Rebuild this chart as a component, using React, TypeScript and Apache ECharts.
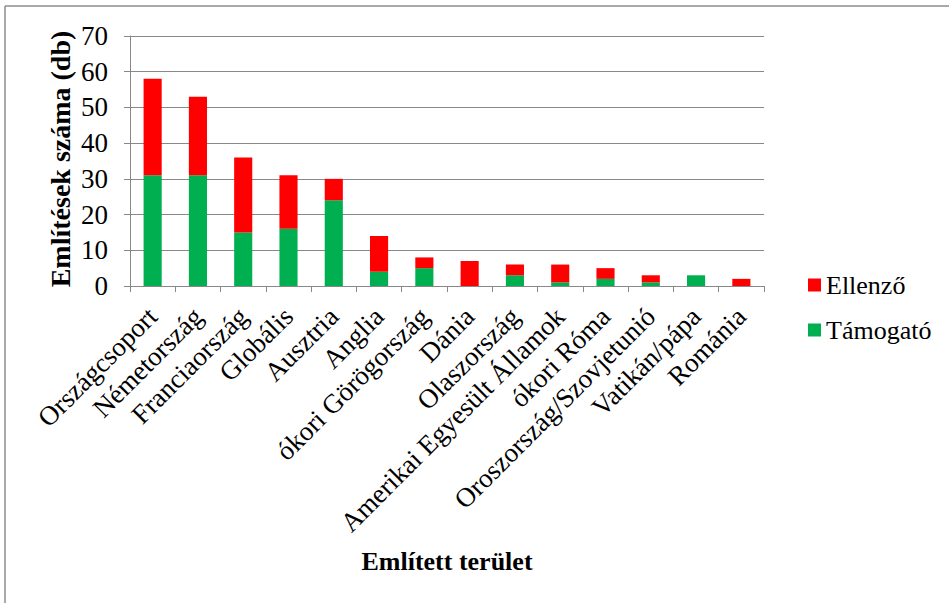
import React, { useEffect, useRef } from "react";
import * as echarts from "echarts";

const categories = [
  "Országcsoport",
  "Németország",
  "Franciaország",
  "Globális",
  "Ausztria",
  "Anglia",
  "ókori Görögország",
  "Dánia",
  "Olaszország",
  "Amerikai Egyesült Államok",
  "ókori Róma",
  "Oroszország/Szovjetunió",
  "Vatikán/pápa",
  "Románia",
];
const tamogato = [31, 31, 15, 16, 24, 4, 5, 0, 3, 1, 2, 1, 3, 0];
const ellenzo = [27, 22, 21, 15, 6, 10, 3, 7, 3, 5, 3, 2, 0, 2];
const yTicks = { min: 0, max: 70, interval: 10 };
const yTitle = "Említések száma (db)";
const xTitle = "Említett terület";

const FONT = "Liberation Serif";

export default function App() {
  const ref = useRef<HTMLDivElement>(null);
  useEffect(() => {
    if (!ref.current) return;
    const chart = echarts.init(ref.current, null, { renderer: "svg" });
    chart.setOption({
      animation: false,
      backgroundColor: "#ffffff",
      textStyle: { fontFamily: FONT, color: "#000" },
      graphic: [
        {
          type: "line",
          shape: { x1: 5, y1: 6, x2: 949, y2: 6 },
          style: { stroke: "#8c8c8c", lineWidth: 1.5 },
        },
        {
          type: "line",
          shape: { x1: 5, y1: 6, x2: 5, y2: 603 },
          style: { stroke: "#8c8c8c", lineWidth: 1.5 },
        },
        {
          type: "text",
          x: 60,
          y: 159,
          rotation: Math.PI / 2,
          style: {
            text: yTitle,
            fontFamily: FONT,
            fontSize: 28,
            fontWeight: "bold",
            fill: "#000",
            align: "center",
            verticalAlign: "middle",
          },
        },
      ],
      grid: { left: 130, right: 185, top: 36, bottom: 317, containLabel: false },
      legend: [
        {
          data: ["Ellenző"],
          left: 808,
          top: 272,
          padding: 0,
          itemWidth: 13,
          itemHeight: 13,
          icon: "rect",
          itemGap: 6,
          textStyle: { fontFamily: FONT, fontSize: 26, color: "#000" },
        },
        {
          data: ["Támogató"],
          left: 808,
          top: 317,
          padding: 0,
          itemWidth: 13,
          itemHeight: 13,
          icon: "rect",
          textStyle: { fontFamily: FONT, fontSize: 26, color: "#000" },
        },
      ],
      xAxis: {
        type: "category",
        data: categories,
        name: xTitle,
        nameLocation: "middle",
        nameGap: 262,
        nameTextStyle: { fontFamily: FONT, fontSize: 26, fontWeight: "bold", color: "#000" },
        axisLine: { lineStyle: { color: "#888", width: 1 } },
        axisTick: { show: true, length: 6, lineStyle: { color: "#888" } },
        axisLabel: {
          rotate: 45,
          interval: 0,
          margin: 26,
          fontFamily: FONT,
          fontSize: 27,
          color: "#000",
        },
      },
      yAxis: {
        type: "value",
        ...yTicks,
        axisLine: { show: true, lineStyle: { color: "#888", width: 1 } },
        axisTick: { show: true, length: 6, lineStyle: { color: "#888" } },
        splitLine: { lineStyle: { color: "#888", width: 1 } },
        axisLabel: { fontFamily: FONT, fontSize: 27, color: "#000", margin: 22 },
      },
      series: [
        {
          name: "Támogató",
          type: "bar",
          stack: "total",
          data: tamogato,
          barWidth: "40%",
          itemStyle: { color: "#00B050" },
        },
        {
          name: "Ellenző",
          type: "bar",
          stack: "total",
          data: ellenzo,
          barWidth: "40%",
          itemStyle: { color: "#FF0000" },
        },
      ],
    });
    return () => chart.dispose();
  }, []);
  return (
    <div
      ref={ref}
      style={{ position: "absolute", left: 0, top: 0, width: 949, height: 603 }}
    />
  );
}
